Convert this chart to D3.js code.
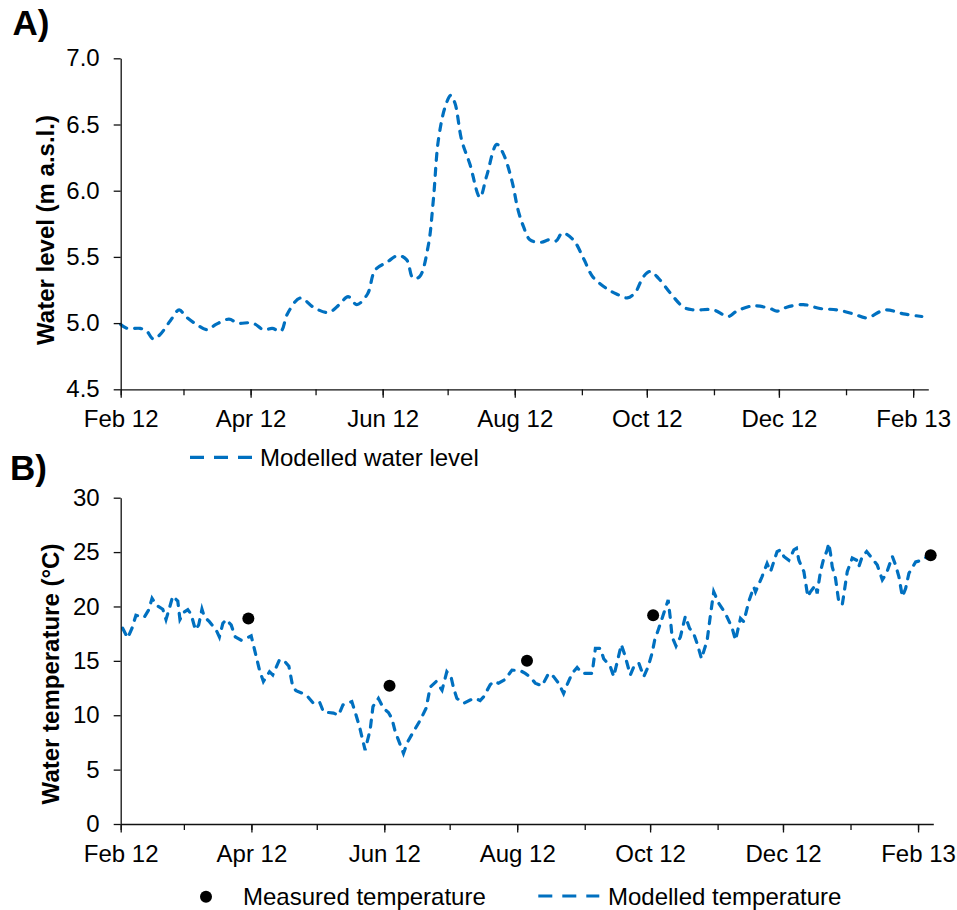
<!DOCTYPE html>
<html>
<head>
<meta charset="utf-8">
<script src="https://cdn.jsdelivr.net/npm/d3@7"></script>
<style>
  html, body { margin: 0; padding: 0; background: #fff; }
  svg { display: block; }
  text { font-family: "Liberation Sans", Arial, sans-serif; fill: #000; }
</style>
</head>
<body>
<svg id="chart" width="957" height="910"></svg>
<script>
// ---------- DATA ----------
// Panel A: modelled water level (days since 1 Feb 2012, m a.s.l.)
const levelDays = [0, 3, 9, 12, 15, 18, 23, 27, 30, 35, 40, 44, 50, 54, 61, 66, 70, 74, 77, 83, 89, 96, 101, 105, 109, 114, 117.5, 123, 128, 132, 135, 138, 142, 144.4, 146.7, 149.8, 152.4, 154.4, 157.5, 161.3, 165.9, 169, 173.7, 176.7, 180.6, 183.6, 186, 189, 194, 198, 201, 204, 209, 214, 218, 224.5, 229, 234, 237.6, 241.4, 244.5, 248.3, 253.7, 260, 264.5, 273.7, 280.6, 284.5, 292, 300, 303, 307.6, 315.3, 323, 330.7, 338.4, 344.6, 353, 361.5, 370];
const levelValues = [4.99, 4.96, 4.96, 4.94, 4.88, 4.91, 5.02, 5.10, 5.05, 4.99, 4.95, 4.99, 5.03, 5.00, 5.00, 4.95, 4.96, 4.94, 5.07, 5.19, 5.12, 5.08, 5.14, 5.20, 5.14, 5.22, 5.40, 5.46, 5.51, 5.48, 5.34, 5.35, 5.58, 5.93, 6.38, 6.63, 6.72, 6.66, 6.38, 6.20, 5.95, 6.11, 6.35, 6.28, 6.08, 5.85, 5.73, 5.63, 5.61, 5.63, 5.62, 5.68, 5.63, 5.48, 5.35, 5.26, 5.22, 5.19, 5.23, 5.35, 5.39, 5.34, 5.23, 5.12, 5.10, 5.10, 5.05, 5.09, 5.13, 5.11, 5.09, 5.12, 5.14, 5.11, 5.10, 5.07, 5.04, 5.10, 5.07, 5.05];

// Panel B: modelled water temperature (days since 1 Feb 2012, °C)
const tempDays = [0.9, 3.2, 5.2, 7.0, 9.3, 10.8, 12.9, 14.4, 16.5, 19.3, 20.8, 22.3, 23.9, 26.2, 27.2, 29.2, 30.8, 32.3, 34.3, 35.8, 37.3, 38.4, 40.7, 43.8, 45.3, 46.9, 48.4, 50.7, 52.6, 55.3, 57.9, 59.9, 62.2, 63.7, 65.5, 68.3, 69.8, 72.9, 75.1, 77.2, 79.0, 80.5, 83.6, 85.9, 88.2, 91.2, 93.1, 97.7, 100.0, 102.0, 106.1, 107.6, 109.6, 112.2, 114.5, 115.8, 118.3, 120.6, 122.9, 124.5, 126.0, 129.8, 131.7, 134.4, 137.5, 140.2, 142.1, 144.8, 147.5, 149.7, 151.6, 152.8, 154.3, 157.4, 160.4, 162.7, 165.0, 166.6, 169.6, 171.2, 173.4, 176.5, 179.6, 183.4, 185.7, 188.0, 190.3, 193.4, 196.4, 198.7, 201.0, 203.3, 204.9, 207.2, 209.5, 211.8, 216.4, 217.9, 220.2, 221.7, 224.8, 226.3, 227.8, 229.8, 231.6, 233.9, 235.5, 237.8, 240.1, 242.1, 243.9, 245.1, 247.0, 248.5, 251.3, 252.3, 253.1, 254.9, 256.9, 259.2, 261.1, 263.0, 264.6, 266.6, 269.2, 270.7, 272.2, 274.5, 277.6, 280.7, 282.2, 284.5, 286.0, 288.3, 290.6, 291.4, 294.4, 296.7, 298.3, 301.3, 302.9, 304.4, 306.7, 309.0, 310.2, 311.3, 313.6, 315.4, 316.6, 318.9, 319.7, 321.2, 322.5, 324.3, 325.0, 325.8, 326.6, 328.1, 329.6, 331.2, 331.9, 333.5, 335.8, 337.8, 338.8, 340.4, 342.4, 344.2, 347.3, 349.6, 351.5, 354.2, 355.7, 357.2, 358.8, 360.3, 361.8, 364.9, 367.9, 369.5];
const tempValues = [18.0, 17.1, 18.0, 19.2, 19.05, 19.0, 19.7, 20.75, 20.1, 19.75, 18.8, 19.8, 20.95, 20.5, 18.8, 19.5, 19.7, 19.3, 17.85, 18.3, 19.75, 19.05, 18.6, 17.85, 17.2, 18.45, 18.8, 18.3, 17.2, 16.9, 17.1, 17.3, 15.4, 14.15, 13.1, 14.0, 13.7, 15.1, 15.0, 14.5, 12.6, 12.25, 12.0, 11.7, 11.15, 11.25, 10.3, 10.2, 10.0, 10.95, 11.25, 10.3, 8.95, 6.8, 8.65, 10.8, 11.55, 10.65, 10.25, 9.7, 8.5, 6.5, 7.55, 8.5, 9.55, 10.65, 12.6, 13.1, 12.3, 14.0, 13.55, 12.5, 11.55, 11.1, 11.4, 11.55, 11.35, 11.7, 12.8, 13.1, 12.95, 13.3, 14.15, 14.1, 13.85, 13.5, 12.95, 12.7, 13.85, 13.55, 12.95, 12.0, 12.8, 13.85, 14.4, 13.85, 13.85, 16.15, 16.15, 15.2, 14.45, 13.55, 14.8, 16.5, 15.4, 13.7, 14.45, 14.8, 13.55, 14.45, 15.7, 16.9, 18.0, 18.9, 20.6, 18.9, 17.2, 16.35, 17.2, 19.1, 18.0, 17.5, 16.6, 15.2, 16.9, 19.2, 21.35, 20.3, 19.35, 18.0, 16.9, 18.9, 18.6, 20.45, 21.8, 21.35, 22.75, 23.95, 23.2, 25.05, 25.2, 24.6, 24.25, 25.2, 25.35, 24.25, 23.2, 20.9, 21.35, 21.95, 21.2, 23.2, 24.25, 25.2, 25.8, 24.9, 23.65, 22.6, 20.45, 20.15, 21.05, 23.2, 24.45, 24.25, 23.65, 24.6, 25.05, 24.6, 23.8, 22.45, 23.05, 24.6, 23.8, 22.75, 20.9, 21.65, 23.05, 24.1, 24.25, 24.5];

// Panel B: measured water temperature
const measuredDays = [58.6, 123.4, 186.5, 244.4, 371.8];
const measuredTemps = [18.9, 12.7, 15.0, 19.2, 24.7];

// Axis ticks
const monthTickLabels = ["Feb 12", "Apr 12", "Jun 12", "Aug 12", "Oct 12", "Dec 12", "Feb 13"];
const levelTicks = [4.5, 5.0, 5.5, 6.0, 6.5, 7.0];
const tempTicks = [0, 5, 10, 15, 20, 25, 30];

// ---------- HELPERS ----------
const startDate = new Date(2012, 1, 1);
const endDate = new Date(2013, 1, 8);
const toDate = d => new Date(startDate.getTime() + d * 864e5);
const minorDates = d3.timeMonth.range(startDate, d3.timeDay.offset(new Date(2013, 1, 1), 1));
const majorDates = minorDates.filter((d, i) => i % 2 === 0);

const BLUE = "#0070C0";
const svg = d3.select("#chart");
const FONT = 24;

function drawAxes(g, x, y, yTicks, yFmt, x0, y0) {
  // minor x ticks
  g.append("g").attr("transform", `translate(0,${y0})`)
    .call(d3.axisBottom(x).tickValues(minorDates).tickSize(6).tickSizeOuter(0).tickFormat(""))
    .call(a => a.select(".domain").remove());
  // major x ticks
  const xa = g.append("g").attr("transform", `translate(0,${y0})`)
    .call(d3.axisBottom(x).tickValues(majorDates).tickSize(8.5).tickSizeOuter(0).tickPadding(12.5)
      .tickFormat((d, i) => monthTickLabels[i]));
  xa.selectAll("text").style("font-size", FONT + "px");
  // y axis
  const ya = g.append("g").attr("transform", `translate(${x0},0)`)
    .call(d3.axisLeft(y).tickValues(yTicks).tickSize(7).tickSizeOuter(0).tickPadding(14).tickFormat(yFmt));
  ya.selectAll("text").style("font-size", FONT + "px");
  g.selectAll(".domain, .tick line").attr("stroke", "#111").attr("stroke-width", 1.3);
}

// ---------- PANEL A ----------
{
  const x = d3.scaleTime().domain([startDate, endDate]).range([120.7, 928.3]);
  const y = d3.scaleLinear().domain([4.5, 7.0]).range([389.3, 58.3]);
  const g = svg.append("g");

  const data = levelDays.map((d, i) => ({ t: toDate(d), v: levelValues[i] }));
  g.append("path").datum(data)
    .attr("fill", "none").attr("stroke", BLUE).attr("stroke-width", 3.2)
    .attr("stroke-dasharray", "7,8").attr("stroke-linecap", "round")
    .attr("d", d3.line().x(d => x(d.t)).y(d => y(d.v)).curve(d3.curveCatmullRom.alpha(0.5)));

  drawAxes(g, x, y, levelTicks, d3.format(".1f"), 120.7, 389.3);

  g.append("text").attr("transform", "translate(54,230) rotate(-90)")
    .attr("text-anchor", "middle").style("font-size", FONT + "px").style("font-weight", "bold")
    .text("Water level (m a.s.l.)");

  g.append("text").attr("x", 12.5).attr("y", 35).style("font-size", "35px").style("font-weight", "bold").text("A)");

  // legend
  const lg = g.append("g");
  lg.append("line").attr("x1", 190).attr("x2", 252.7).attr("y1", 457.3).attr("y2", 457.3)
    .attr("stroke", BLUE).attr("stroke-width", 3.2).attr("stroke-dasharray", "14,10");
  lg.append("text").attr("x", 260).attr("y", 465.5).style("font-size", FONT + "px").text("Modelled water level");
}

// ---------- PANEL B ----------
{
  const x = d3.scaleTime().domain([startDate, endDate]).range([120.7, 933.3]);
  const y = d3.scaleLinear().domain([0, 30]).range([824, 497.7]);
  const g = svg.append("g");

  const data = tempDays.map((d, i) => ({ t: toDate(d), v: tempValues[i] }));
  g.append("path").datum(data)
    .attr("fill", "none").attr("stroke", BLUE).attr("stroke-width", 3.2)
    .attr("stroke-dasharray", "7,8").attr("stroke-linecap", "round")
    .attr("d", d3.line().x(d => x(d.t)).y(d => y(d.v)));

  g.append("g").selectAll("circle")
    .data(measuredDays.map((d, i) => ({ t: toDate(d), v: measuredTemps[i] })))
    .join("circle")
    .attr("cx", d => x(d.t)).attr("cy", d => y(d.v)).attr("r", 6).attr("fill", "#000");

  drawAxes(g, x, y, tempTicks, d3.format("d"), 120.7, 824);

  g.append("text").attr("transform", "translate(59,674) rotate(-90)")
    .attr("text-anchor", "middle").style("font-size", FONT + "px").style("font-weight", "bold")
    .text("Water temperature (°C)");

  g.append("text").attr("x", 10).attr("y", 479.5).style("font-size", "35px").style("font-weight", "bold").text("B)");

  // legend
  const lg = g.append("g");
  lg.append("circle").attr("cx", 206).attr("cy", 896.7).attr("r", 6).attr("fill", "#000");
  lg.append("text").attr("x", 243).attr("y", 905).style("font-size", FONT + "px").text("Measured temperature");
  lg.append("line").attr("x1", 538.3).attr("x2", 599.3).attr("y1", 896).attr("y2", 896)
    .attr("stroke", BLUE).attr("stroke-width", 3.2).attr("stroke-dasharray", "14,10");
  lg.append("text").attr("x", 608).attr("y", 905).style("font-size", FONT + "px").text("Modelled temperature");
}
</script>
</body>
</html>
